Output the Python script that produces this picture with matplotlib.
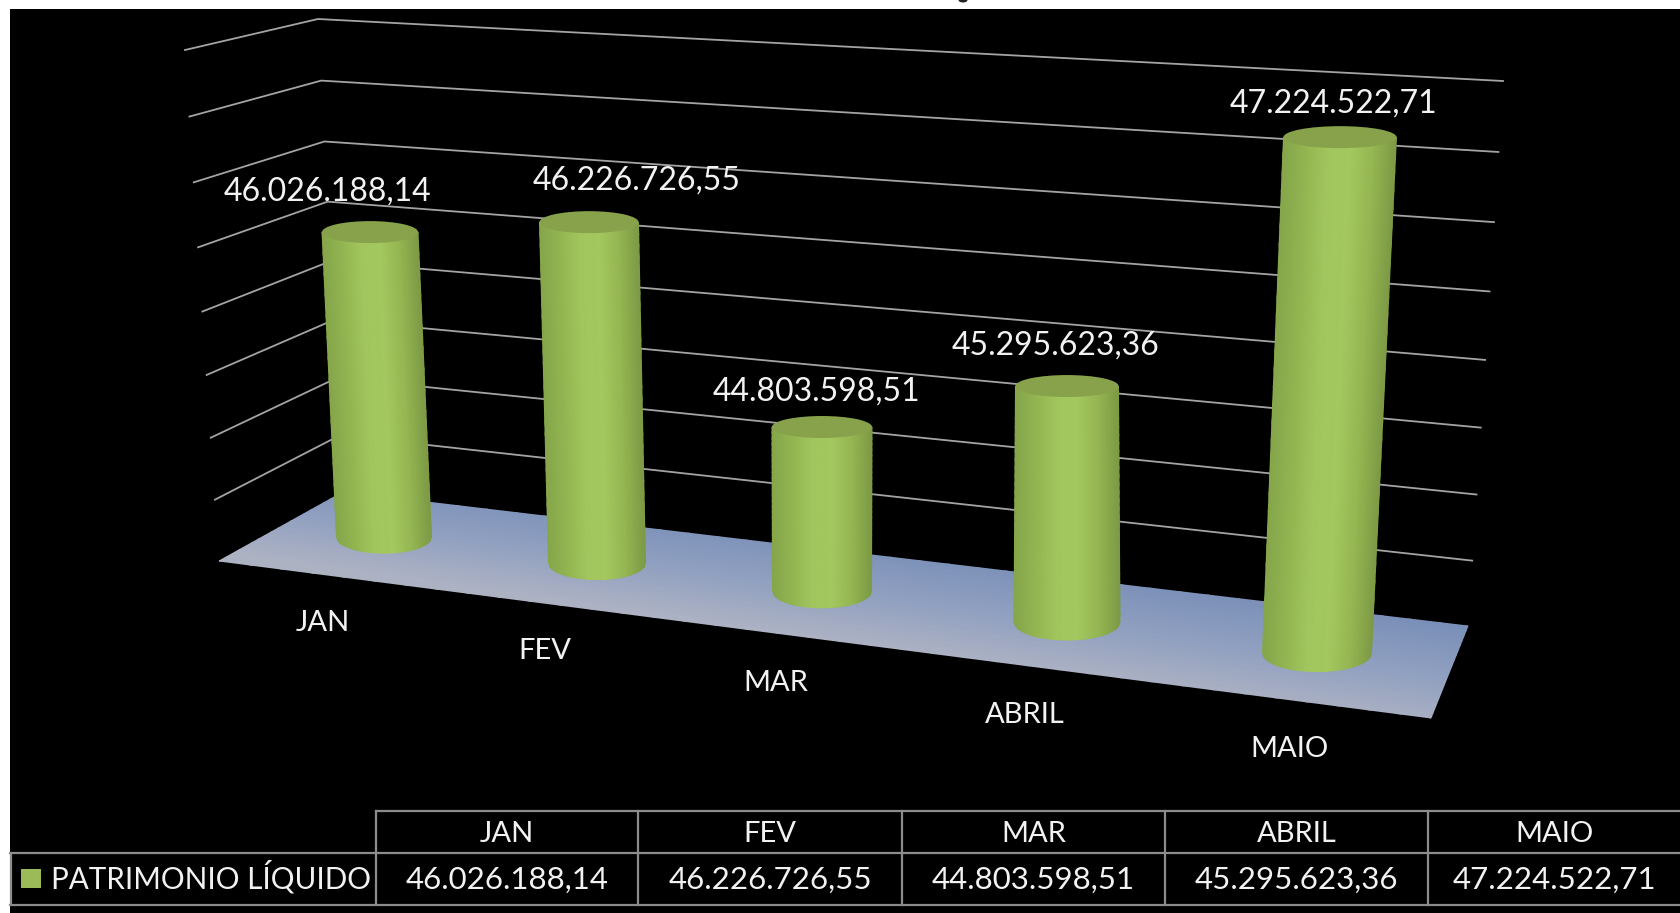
import numpy as np
import matplotlib
matplotlib.use("Agg")
import matplotlib.pyplot as plt
from matplotlib.colors import LinearSegmentedColormap
from matplotlib.patches import Ellipse, Rectangle

plt.rcParams['font.family'] = ['Lato', 'DejaVu Sans']

# ---------- data ----------
categories = ['JAN', 'FEV', 'MAR', 'ABRIL', 'MAIO']
values = [46026188.14, 46226726.55, 44803598.51, 45295623.36, 47224522.71]
value_labels = ['46.026.188,14', '46.226.726,55', '44.803.598,51', '45.295.623,36', '47.224.522,71']
series_name = 'PATRIMONIO LÍQUIDO'
axis_min, axis_max, axis_step = 43.5e6, 47.5e6, 0.5e6

# ---------- layout (pixels of the 1681x913 picture) ----------
W, H = 1681, 913
base_x = [384, 597, 822, 1067, 1317]
base_y = [537, 563, 591, 622, 653]
px_per_unit = [120.7e-6, 125e-6, 125.8e-6, 131.4e-6, 138.5e-6]
lean = [-14, -8, 0, 0, 23]
top_w = [96, 99, 100, 103, 113]
bot_w = [95, 97, 99, 106, 109]
label_xy = [(328, 192), (637, 181), (817, 392), (1056, 346), (1334, 104)]
cat_xy = [(323, 623), (545, 651), (776, 683), (1025, 715), (1290, 749)]
col_edges = [376, 638, 902, 1165, 1428, 1681]
row_y = [811, 853, 905]

# wall corners: left end, back corner, right end; (bottom, top)
wall_left = ((219, 561), (185, 50))
wall_corner = ((343, 492), (318, 19))
wall_right = ((1468, 626), (1503, 81))

GRID = '#a4a4a4'
TEXT = '#f2f2f2'

fig = plt.figure(figsize=(W / 100, H / 100), dpi=100, facecolor='white')
ax = fig.add_axes([0, 0, 1, 1])
ax.set_xlim(0, W)
ax.set_ylim(H, 0)
ax.axis('off')

ax.add_patch(Rectangle((10, 9.5), W - 10, H - 9.5, facecolor='black', edgecolor='none', zorder=0))
ax.add_patch(Ellipse((963, 0), 9, 5, facecolor='#222222', edgecolor='none', zorder=1))


def wall_t(v):
    t = (v - axis_min) / (axis_max - axis_min)
    a = 0.046
    return t * (1 - a) / (1 - a * t)


def lerp(p, q, t):
    return p[0] + (q[0] - p[0]) * t, p[1] + (q[1] - p[1]) * t


# gridlines
for v in np.arange(axis_min + axis_step, axis_max + 1, axis_step):
    t = wall_t(v)
    pts = [lerp(c[0], c[1], t) for c in (wall_left, wall_corner, wall_right)]
    ax.plot([p[0] for p in pts], [p[1] for p in pts], color=GRID, lw=1.3, zorder=1,
            solid_joinstyle='miter')

# floor
floor_fl = wall_left[0]
floor_bl = wall_corner[0]
floor_br = wall_right[0]
floor_fr = (1431, 718)
floor_cmap = LinearSegmentedColormap.from_list('floor', ['#7a8fb8', '#90a0c0', '#adb2c3'])
u = np.linspace(0, 1, 40)
s = np.linspace(0, 1, 20)
U, S = np.meshgrid(u, s)
FX = (1 - S) * ((1 - U) * floor_bl[0] + U * floor_br[0]) + S * ((1 - U) * floor_fl[0] + U * floor_fr[0])
FY = (1 - S) * ((1 - U) * floor_bl[1] + U * floor_br[1]) + S * ((1 - U) * floor_fl[1] + U * floor_fr[1])
FC = np.clip(S * 0.9 + (1 - U) * 0.2, 0, 1)
ax.pcolormesh(FX, FY, FC, cmap=floor_cmap, vmin=0, vmax=1, shading='gouraud', zorder=2)

# cylinders
body_cmap = LinearSegmentedColormap.from_list(
    'body', ['#86a64b', '#93b551', '#a2c65e', '#a4c860', '#95b652', '#7d9a45'])

for i, v in enumerate(values):
    h = (v - axis_min) * px_per_unit[i]
    bx, by = base_x[i], base_y[i]
    tx, ty = bx + lean[i], by - h
    ex_t = 11
    ex_b = 0.17 * bot_w[i]
    uu = np.linspace(-1, 1, 61)
    vv = np.linspace(0, 1, 30)
    UU, VV = np.meshgrid(uu, vv)
    X = (tx + UU * top_w[i] / 2) * (1 - VV) + (bx + UU * bot_w[i] / 2) * VV
    Y = ty * (1 - VV) + (by + ex_b * np.sqrt(1 - UU ** 2)) * VV
    ax.pcolormesh(X, Y, (UU + 1) / 2, cmap=body_cmap, vmin=0, vmax=1, shading='gouraud', zorder=3)
    ax.add_patch(Ellipse((tx, ty), top_w[i], 2 * ex_t, facecolor='#87a24a', edgecolor='none', zorder=4))

# data labels
for (x, y), s_ in zip(label_xy, value_labels):
    ax.text(x, y, s_, color=TEXT, fontsize=23, ha='center', va='center', zorder=6)
for (x, y), c in zip(cat_xy, categories):
    ax.text(x, y, c, color=TEXT, fontsize=21, ha='center', va='center', zorder=6)

# data table
TL = '#8c8c8c'
LW = 1.6
ax.plot([col_edges[0], W], [row_y[0], row_y[0]], color=TL, lw=LW, zorder=5)
ax.plot([10, W], [row_y[1], row_y[1]], color=TL, lw=LW, zorder=5)
ax.plot([10, W], [row_y[2], row_y[2]], color=TL, lw=LW, zorder=5)
ax.plot([11, 11], [row_y[1], row_y[2]], color=TL, lw=LW, zorder=5)
for x in col_edges[:-1]:
    ax.plot([x, x], [row_y[0], row_y[2]], color=TL, lw=LW, zorder=5)
for j, c in enumerate(categories):
    xc = (col_edges[j] + col_edges[j + 1]) / 2
    ax.text(xc, (row_y[0] + row_y[1]) / 2 + 2, c, color=TEXT, fontsize=21, ha='center', va='center', zorder=6)
    ax.text(xc, (row_y[1] + row_y[2]) / 2 + 1, value_labels[j], color=TEXT, fontsize=22.5, ha='center', va='center', zorder=6)
ax.add_patch(Rectangle((21, 869), 20, 19, facecolor='#9bbb59', edgecolor='none', zorder=6))
ax.text(51, (row_y[1] + row_y[2]) / 2 - 2, series_name, color=TEXT, fontsize=21.3, ha='left', va='center', zorder=6)

fig.savefig('out.png', dpi=100, facecolor='white')
